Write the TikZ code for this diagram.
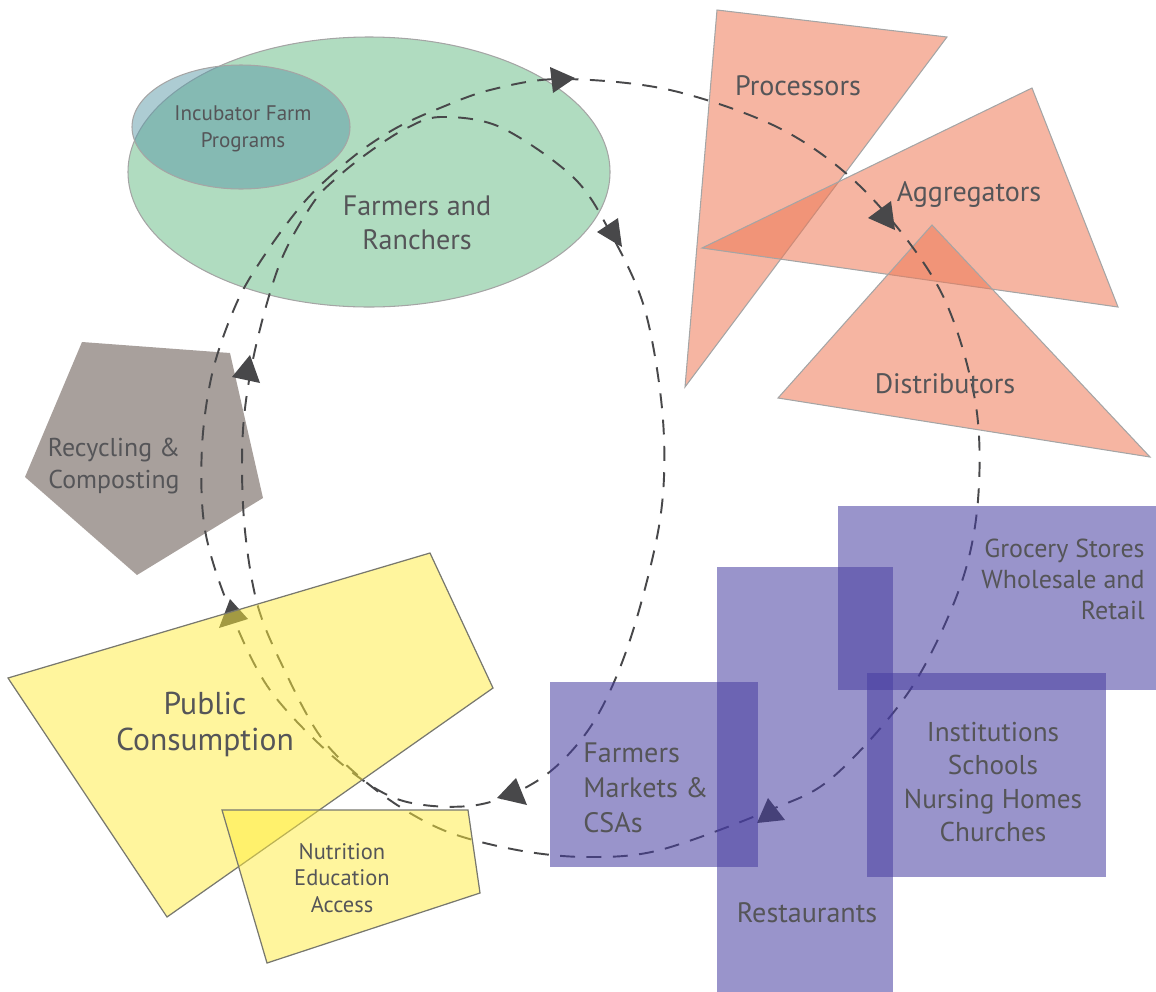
\documentclass[tikz,border=0pt]{standalone}
\usepackage{fontspec}
\setmainfont{PT Sans}
\begin{document}
\begin{tikzpicture}[x=0.02cm,y=-0.02cm,
  lbl/.style={text=txtgray,inner sep=0pt,align=center},
  salmon/.style={fill=salmonc,fill opacity=0.55,draw=edgegray,line width=0.6pt},
  yel/.style={fill=yellowc,fill opacity=0.5,draw=yedge,line width=0.7pt},
  purp/.style={fill=purplec,fill opacity=0.55,draw=none},
  flow/.style={draw=flowc,line width=1.1pt,dash pattern=on 8.5pt off 6.5pt},
  tip/.style={fill=flowc,draw=none}]
\definecolor{txtgray}{RGB}{85,85,88}
\definecolor{greenc}{RGB}{176,220,192}
\definecolor{incc}{RGB}{91,154,168}
\definecolor{salmonc}{RGB}{238,120,85}
\definecolor{edgegray}{RGB}{165,165,165}
\definecolor{yellowc}{RGB}{255,236,60}
\definecolor{yedge}{RGB}{120,120,110}
\definecolor{purplec}{RGB}{70,60,160}
\definecolor{pentc}{RGB}{168,160,156}
\definecolor{flowc}{RGB}{72,72,74}
\useasboundingbox (0,0) rectangle (1156,991);
\clip (0,0) rectangle (1156,991);
% Farmers and Ranchers
\draw[fill=greenc,draw=edgegray,line width=0.6pt] (369,172) ellipse [x radius=241,y radius=135];
\draw[fill=incc,fill opacity=0.5,draw=edgegray,line width=0.6pt] (241,127) ellipse [x radius=109,y radius=62];
% triangles
\draw[salmon] (717,10) -- (947,37) -- (685,387) -- cycle;
\draw[salmon] (1032,88) -- (702,248) -- (1118,307) -- cycle;
\draw[salmon] (932,225) -- (778,398) -- (1150,457) -- cycle;
% pentagon
\fill[pentc] (82,342) -- (230,353) -- (263,498) -- (137,575) -- (25,477) -- cycle;
% flow (figure-eight cycle)
\draw[flow] plot[smooth cycle,tension=0.55] coordinates {
 (300,207) (326,180) (362,150) (398,127) (440,108) (490,90) (560,79) (670,90) (783,130) (867,193) (940,290) (975,400) (978,500) (960,587) (910,690) (833,777) (770,810) (660,850) (587,857) (517,850) (443,830) (380,793) (323,740) (283,667) (257,603) (244,520) (243,430) (255,350) (280,263) (313,203) (340,175) (372,150) (405,129) (440,117) (500,127) (573,177) (610,232) (645,310) (663,420) (660,520) (630,640) (593,723) (543,777) (477,805) (400,800) (337,760) (270,690) (230,610) (205,530) (202,447) (213,370) (238,300) (268,250)};
\fill[tip] (550,67) -- (575,78) -- (553,93) -- cycle;
\fill[tip] (868,218) -- (891,201) -- (895,230) -- cycle;
\fill[tip] (618,218) -- (597,232) -- (622,247) -- cycle;
\fill[tip] (250,355) -- (232,377) -- (260,383) -- cycle;
\fill[tip] (230,599) -- (219,628) -- (248,619) -- cycle;
\fill[tip] (497,798) -- (516,778) -- (527,805) -- cycle;
\fill[tip] (768,798) -- (757,823) -- (785,820) -- cycle;
% yellow
\draw[yel] (8,678) -- (430,553) -- (493,688) -- (167,917) -- cycle;
\draw[yel] (222,810) -- (468,810) -- (480,893) -- (267,963) -- cycle;
% purple
\fill[purp] (838,506) rectangle (1160,690);
\fill[purp] (717,567) rectangle (893,995);
\fill[purp] (550,682) rectangle (758,867);
\fill[purp] (867,673) rectangle (1106,877);
% labels
\node[lbl,font=\fontsize{12}{15.4}\selectfont] (inc) at (243,129) {Incubator Farm\\Programs};
\node[lbl,font=\fontsize{16}{19.3}\selectfont] (far) at (417,223) {Farmers and\\Ranchers};
\node[lbl,font=\fontsize{16}{19}\selectfont] (pro) at (798,86) {Processors};
\node[lbl,font=\fontsize{16}{19}\selectfont] (agg) at (969,194) {Aggregators};
\node[lbl,font=\fontsize{16}{19}\selectfont] (dis) at (945,384) {Distributors};
\node[lbl,font=\fontsize{14.7}{18.2}\selectfont] (rec) at (114,466) {Recycling \&\\Composting};
\node[lbl,font=\fontsize{18}{20.5}\selectfont] (pub) at (205,724) {Public\\Consumption};
\node[lbl,font=\fontsize{12.8}{15}\selectfont] (nut) at (342,878) {Nutrition\\Education\\Access};
\node[lbl,align=left,anchor=west,font=\fontsize{16}{20}\selectfont] (fm) at (583,788) {Farmers\\Markets \&\\CSAs};
\node[lbl,font=\fontsize{16}{19}\selectfont] (res) at (807,913) {Restaurants};
\node[lbl,align=right,anchor=east,font=\fontsize{14.8}{17.6}\selectfont] (gro) at (1145,579) {Grocery Stores\\Wholesale and\\Retail};
\node[lbl,font=\fontsize{15.5}{19}\selectfont] (ins) at (993,782) {Institutions\\Schools\\Nursing Homes\\Churches};
\end{tikzpicture}
\end{document}
